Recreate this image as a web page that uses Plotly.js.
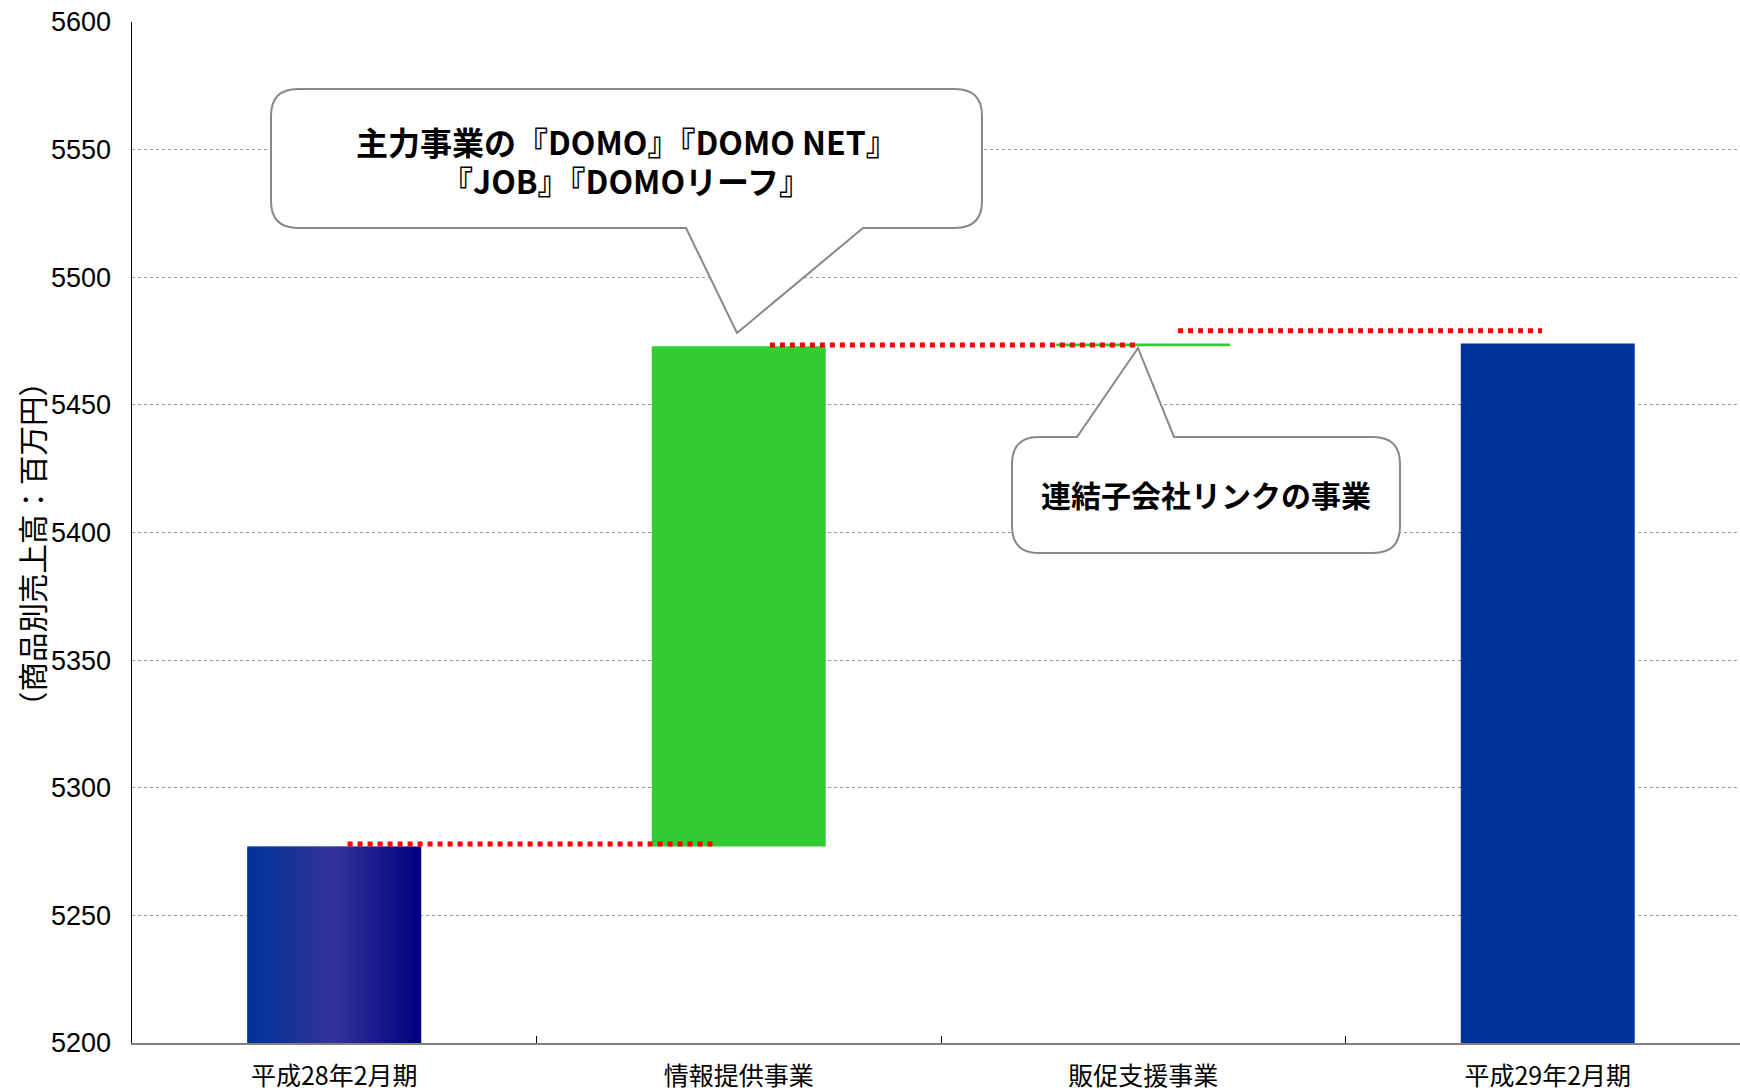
<!DOCTYPE html>
<html>
<head>
<meta charset="utf-8">
<script src="https://cdn.plot.ly/plotly-3.0.1.min.js"></script>
<style>html,body{margin:0;padding:0;background:#fff;}#chart{width:1740px;height:1090px;}</style>
</head>
<body>
<div id="chart"></div>
<script>
// ---- data ----
const categories = ['平成28年2月期', '情報提供事業', '販促支援事業', '平成29年2月期'];
const values = [5277, 196, 1, 5474];
const measures = ['absolute', 'relative', 'relative', 'total'];
const connectorLevels = [5278, 5473.5, 5479];
const yRange = [5200, 5600];
const yTitle = '（商品別売上高：百万円）';
const callout1Lines = ['主力事業の『DOMO』『DOMO NET』', '『JOB』『DOMOリーフ』'];
const callout2Text = '連結子会社リンクの事業';

// ---- layout geometry ----
const W = 1740, H = 1090;
const mar = {l: 132, r: 0, t: 22, b: 47, pad: 0};
const pw = W - mar.l - mar.r, ph = H - mar.t - mar.b;
const px = x => (x - mar.l) / pw;
const py = y => (H - mar.b - y) / ph;
const BAR_W = 0.43;

function bubblePath(L, R, T, B, r, tail, side) {
  const f = (x, y) => px(x).toFixed(5) + ',' + py(y).toFixed(5);
  let p = 'M' + f(L + r, T);
  if (side === 'top') {
    p += ' L' + f(tail[0], T) + ' L' + f(tail[2], tail[3]) + ' L' + f(tail[1], T);
  }
  p += ' L' + f(R - r, T) + ' Q' + f(R, T) + ' ' + f(R, T + r);
  p += ' L' + f(R, B - r) + ' Q' + f(R, B) + ' ' + f(R - r, B);
  if (side === 'bottom') {
    p += ' L' + f(tail[1], B) + ' L' + f(tail[2], tail[3]) + ' L' + f(tail[0], B);
  }
  p += ' L' + f(L + r, B) + ' Q' + f(L, B) + ' ' + f(L, B - r);
  p += ' L' + f(L, T + r) + ' Q' + f(L, T) + ' ' + f(L + r, T) + ' Z';
  return p;
}

const gradSvg = '<svg xmlns="http://www.w3.org/2000/svg" width="100" height="100" preserveAspectRatio="none">' +
  '<defs><linearGradient id="g" x1="0" y1="0" x2="1" y2="0">' +
  '<stop offset="0" stop-color="#003399"/><stop offset="0.5" stop-color="#333399"/><stop offset="1" stop-color="#000080"/>' +
  '</linearGradient></defs><rect width="100" height="100" fill="url(#g)"/></svg>';
const gradUri = 'data:image/svg+xml;base64,' + btoa(gradSvg);

const trace = {
  type: 'waterfall',
  x: categories,
  y: values,
  measure: measures,
  width: BAR_W,
  connector: {visible: false},
  increasing: {marker: {color: '#33CC33'}},
  decreasing: {marker: {color: '#33CC33'}},
  totals: {marker: {color: '#003399'}},
  textinfo: 'none',
  hoverinfo: 'x+y',
  showlegend: false
};

const dotLine = {color: '#FF0000', width: 5, dash: '5px,5px'};
const shapes = [
  {type: 'line', xref: 'x', yref: 'y', x0: 0.033, x1: 0.935, y0: connectorLevels[0], y1: connectorLevels[0], line: dotLine, layer: 'above'},
  {type: 'line', xref: 'x', yref: 'y', x0: 1.077, x1: 1.982, y0: connectorLevels[1], y1: connectorLevels[1], line: dotLine, layer: 'above'},
  {type: 'line', xref: 'x', yref: 'y', x0: 2.086, x1: 2.986, y0: connectorLevels[2], y1: connectorLevels[2], line: dotLine, layer: 'above'},
  {type: 'path', xref: 'paper', yref: 'paper', layer: 'above',
   path: bubblePath(271, 982, 89, 228, 27, [686, 863, 737, 333], 'bottom'),
   fillcolor: '#FFFFFF', line: {color: '#888888', width: 2}},
  {type: 'path', xref: 'paper', yref: 'paper', layer: 'above',
   path: bubblePath(1012, 1400, 437, 553, 27, [1077, 1174, 1138, 348], 'top'),
   fillcolor: '#FFFFFF', line: {color: '#888888', width: 2}}
];

const boldFont = {family: 'Noto Sans CJK JP', size: 32, color: '#000', weight: 'bold'};

const layout = {
  width: W, height: H,
  margin: mar,
  paper_bgcolor: '#FFFFFF',
  plot_bgcolor: '#FFFFFF',
  showlegend: false,
  font: {family: 'Noto Sans CJK JP, sans-serif', color: '#000'},
  xaxis: {
    type: 'category',
    range: [-0.5, -0.5 + pw / 404.5],
    tickson: 'boundaries',
    ticks: 'inside', ticklen: 7, tickwidth: 1, tickcolor: '#000',
    showline: true, linecolor: '#808080', linewidth: 2,
    showgrid: false, zeroline: false,
    tickfont: {family: 'Noto Sans CJK JP', size: 25, color: '#000'},
    ticklabelstandoff: 10,
    automargin: false, fixedrange: true
  },
  yaxis: {
    range: yRange,
    tick0: yRange[0], dtick: 50,
    showgrid: true, gridcolor: '#999999', griddash: 'dot', gridwidth: 1,
    showline: true, linecolor: '#000000', linewidth: 1.5,
    ticks: '', zeroline: false,
    tickfont: {family: 'Liberation Sans, Arial, sans-serif', size: 27, color: '#000'},
    ticklabelstandoff: 14,
    automargin: false, fixedrange: true
  },
  shapes: shapes,
  images: [{
    source: gradUri, xref: 'x', yref: 'y',
    x: 0 - BAR_W / 2, y: values[0], sizex: BAR_W, sizey: values[0] - yRange[0],
    xanchor: 'left', yanchor: 'top', sizing: 'stretch', layer: 'above'
  }],
  annotations: [
    {xref: 'paper', yref: 'paper', x: px(31), y: py(544), xanchor: 'center', yanchor: 'middle',
     text: yTitle, textangle: -90, showarrow: false,
     font: {family: 'Noto Sans CJK JP', size: 29.5, color: '#000'}},
    {xref: 'paper', yref: 'paper', x: px(627), y: py(141), xanchor: 'center', yanchor: 'middle',
     text: callout1Lines[0], showarrow: false, font: boldFont},
    {xref: 'paper', yref: 'paper', x: px(626), y: py(180), xanchor: 'center', yanchor: 'middle',
     text: callout1Lines[1], showarrow: false, font: boldFont},
    {xref: 'paper', yref: 'paper', x: px(1206), y: py(494), xanchor: 'center', yanchor: 'middle',
     text: callout2Text, showarrow: false,
     font: {family: 'Noto Sans CJK JP', size: 30, color: '#000', weight: 'bold'}}
  ]
};

Plotly.newPlot('chart', [trace], layout, {displayModeBar: false, staticPlot: true});
</script>
</body>
</html>
